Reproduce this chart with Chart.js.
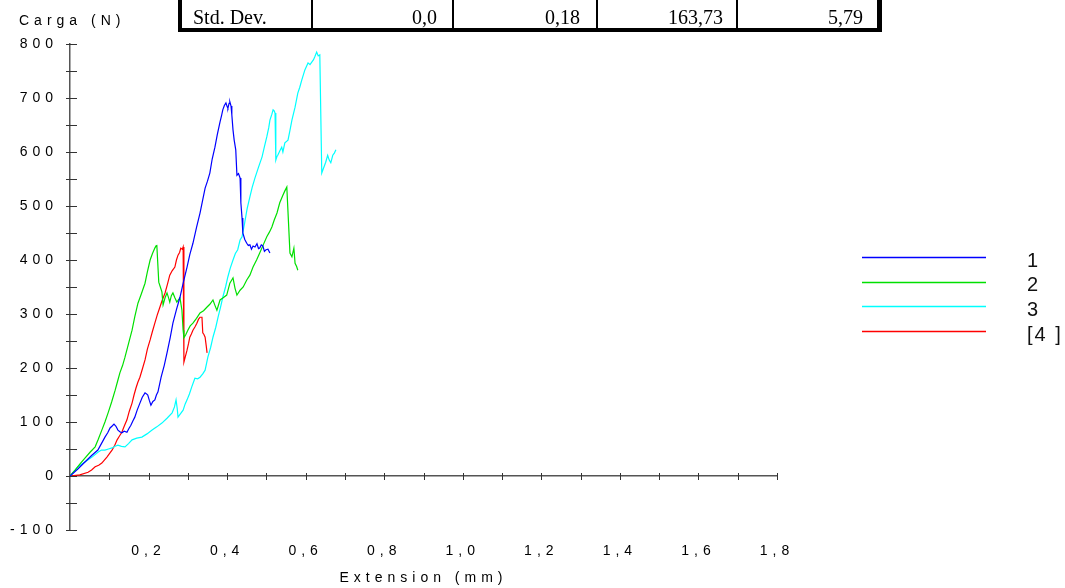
<!DOCTYPE html>
<html>
<head>
<meta charset="utf-8">
<script src="https://cdn.jsdelivr.net/npm/chart.js@4.4.1/dist/chart.umd.min.js"></script>
<style>
  html, body { margin: 0; padding: 0; background: #fff; }
  #wrap { position: relative; width: 1065px; height: 588px; overflow: hidden; }
  canvas { position: absolute; left: 0; top: 0; }
  .tb { position: absolute; background: #000; }
  .tt { position: absolute; top: 7px; font: 20px "Liberation Serif", "Times New Roman", serif; line-height: 20px; color: #000; white-space: nowrap; }
</style>
</head>
<body>
<div id="wrap">
  <canvas id="chart" width="1065" height="588"></canvas>
  <div id="statsTable"></div>
</div>
<script>
// stats row shown above the chart
const statLabel = 'Std. Dev.';
const statValues = ['0,0', '0,18', '163,73', '5,79'];

// series names and colours
const seriesNames = ['1', '2', '3', '[4 ]'];
const seriesColors = ['#0000ff', '#00e000', '#00ffff', '#ff0000'];

// Extension (mm) / Carga (N)
const ext1 = [0, 0.02, 0.038, 0.055, 0.071, 0.08, 0.089, 0.096, 0.102, 0.108, 0.112, 0.117, 0.122, 0.127, 0.132, 0.138, 0.145, 0.150, 0.155, 0.160, 0.165, 0.171, 0.178, 0.184, 0.191, 0.195, 0.198, 0.202, 0.206, 0.211, 0.216, 0.220, 0.224, 0.232, 0.240, 0.247, 0.255, 0.262, 0.271, 0.280, 0.289, 0.298, 0.305, 0.313, 0.322, 0.331, 0.338, 0.344, 0.350, 0.356, 0.362, 0.369, 0.375, 0.382, 0.386, 0.389, 0.393, 0.397, 0.400, 0.402, 0.405, 0.407, 0.410, 0.412, 0.415, 0.418, 0.422, 0.425, 0.429, 0.433, 0.435, 0.438, 0.440, 0.445, 0.450, 0.454, 0.458, 0.462, 0.466, 0.471, 0.476, 0.480, 0.483, 0.487, 0.491, 0.495, 0.499, 0.504, 0.509];
const load1 = [0, 13, 26, 38, 48, 60, 72, 80, 89, 93, 96, 92, 85, 82, 80, 83, 81, 88, 94, 102, 109, 122, 135, 146, 154, 152, 150, 140, 131, 138, 141, 150, 156, 183, 205, 228, 256, 283, 308, 331, 360, 387, 410, 431, 460, 487, 512, 533, 546, 561, 587, 609, 632, 656, 668, 678, 686, 691, 684, 681, 690, 693, 685, 669, 641, 622, 604, 557, 560, 552, 506, 478, 450, 438, 431, 427, 428, 420, 426, 424, 430, 421, 422, 428, 426, 416, 419, 420, 413];

const ext2 = [0, 0.013, 0.025, 0.038, 0.051, 0.064, 0.072, 0.081, 0.089, 0.097, 0.106, 0.115, 0.121, 0.127, 0.134, 0.140, 0.149, 0.158, 0.165, 0.173, 0.182, 0.191, 0.197, 0.204, 0.210, 0.216, 0.219, 0.221, 0.226, 0.230, 0.234, 0.237, 0.242, 0.247, 0.251, 0.254, 0.258, 0.262, 0.267, 0.272, 0.276, 0.280, 0.285, 0.288, 0.290, 0.295, 0.300, 0.306, 0.313, 0.322, 0.331, 0.340, 0.349, 0.356, 0.364, 0.369, 0.374, 0.382, 0.390, 0.399, 0.407, 0.415, 0.420, 0.425, 0.433, 0.441, 0.450, 0.458, 0.466, 0.475, 0.483, 0.492, 0.501, 0.508, 0.514, 0.520, 0.527, 0.534, 0.542, 0.547, 0.552, 0.560, 0.565, 0.570, 0.573, 0.577, 0.580];
const load2 = [0, 11, 22, 33, 44, 54, 68, 85, 100, 117, 137, 159, 175, 191, 205, 220, 245, 270, 295, 320, 338, 357, 378, 400, 412, 422, 426, 428, 359, 350, 341, 317, 330, 339, 330, 322, 334, 339, 330, 322, 326, 330, 307, 270, 256, 262, 270, 278, 283, 292, 302, 306, 313, 318, 326, 316, 307, 326, 330, 335, 357, 367, 348, 335, 344, 350, 363, 372, 387, 400, 413, 428, 443, 452, 461, 474, 487, 506, 520, 528, 535, 413, 406, 422, 394, 388, 381];

const ext3 = [0, 0.020, 0.038, 0.056, 0.071, 0.080, 0.089, 0.098, 0.107, 0.115, 0.122, 0.131, 0.140, 0.149, 0.158, 0.170, 0.183, 0.196, 0.209, 0.221, 0.234, 0.247, 0.260, 0.266, 0.270, 0.273, 0.275, 0.281, 0.288, 0.293, 0.298, 0.304, 0.310, 0.318, 0.325, 0.331, 0.338, 0.344, 0.351, 0.358, 0.364, 0.371, 0.377, 0.383, 0.389, 0.396, 0.402, 0.408, 0.415, 0.421, 0.427, 0.433, 0.438, 0.445, 0.451, 0.458, 0.464, 0.471, 0.480, 0.489, 0.495, 0.501, 0.506, 0.509, 0.514, 0.517, 0.520, 0.522, 0.524, 0.527, 0.529, 0.534, 0.539, 0.542, 0.547, 0.555, 0.560, 0.565, 0.573, 0.580, 0.585, 0.590, 0.598, 0.606, 0.611, 0.616, 0.620, 0.623, 0.628, 0.632, 0.636, 0.641, 0.644, 0.648, 0.651, 0.656, 0.660, 0.664, 0.669, 0.673, 0.677];
const load3 = [0, 17, 26, 35, 44, 48, 48, 50, 52, 55, 57, 55, 54, 60, 67, 70, 72, 78, 85, 91, 98, 107, 117, 128, 141, 125, 109, 115, 122, 133, 141, 152, 165, 181, 180, 183, 189, 196, 220, 238, 257, 275, 294, 312, 331, 350, 369, 385, 400, 412, 419, 437, 443, 470, 495, 517, 535, 552, 572, 591, 610, 628, 645, 659, 670, 678, 676, 672, 585, 592, 594, 602, 609, 600, 617, 622, 640, 659, 683, 709, 720, 733, 752, 765, 762, 767, 771, 776, 785, 778, 780, 561, 567, 575, 581, 594, 585, 580, 594, 598, 604];

const ext4 = [0, 0.025, 0.046, 0.055, 0.064, 0.073, 0.081, 0.088, 0.094, 0.100, 0.107, 0.114, 0.120, 0.126, 0.132, 0.138, 0.145, 0.151, 0.158, 0.163, 0.168, 0.173, 0.178, 0.185, 0.191, 0.197, 0.204, 0.210, 0.216, 0.222, 0.229, 0.235, 0.242, 0.248, 0.254, 0.260, 0.267, 0.271, 0.275, 0.279, 0.282, 0.286, 0.288, 0.290, 0.294, 0.298, 0.302, 0.305, 0.309, 0.313, 0.318, 0.323, 0.327, 0.331, 0.336, 0.338, 0.341, 0.344, 0.347, 0.349];
const load4 = [0, 2, 7, 11, 17, 20, 24, 30, 35, 41, 48, 57, 67, 74, 81, 92, 104, 120, 135, 150, 163, 174, 183, 200, 215, 235, 252, 268, 283, 298, 313, 326, 339, 355, 372, 380, 387, 400, 409, 414, 422, 420, 424, 211, 222, 233, 246, 257, 263, 270, 276, 283, 290, 294, 294, 265, 262, 257, 240, 228];

const xMin = 0, xMax = 1.8, yMin = -100, yMax = 800;

function zip(xs, ys) {
    return xs.map((x, i) => ({ x: x, y: ys[i] }));
}

const allExt = [ext1, ext2, ext3, ext4];
const allLoad = [load1, load2, load3, load4];

// build the little table with real text
(function buildTable() {
    const t = document.getElementById('statsTable');
    const bars = [
        [178, -10, 4, 42], [311, -10, 2, 40], [452, -10, 2, 40], [596, -10, 2, 40],
        [736, -10, 2, 40], [877, -10, 5, 42], [178, 28, 704, 4]
    ];
    bars.forEach(b => {
        const d = document.createElement('div');
        d.className = 'tb';
        d.style.left = b[0] + 'px'; d.style.top = b[1] + 'px';
        d.style.width = b[2] + 'px'; d.style.height = b[3] + 'px';
        t.appendChild(d);
    });
    const lab = document.createElement('div');
    lab.className = 'tt';
    lab.style.left = '193px';
    lab.textContent = statLabel;
    t.appendChild(lab);
    const rights = [437, 580, 723, 863];
    statValues.forEach((v, i) => {
        const d = document.createElement('div');
        d.className = 'tt';
        d.style.right = (1065 - rights[i]) + 'px';
        d.textContent = v;
        t.appendChild(d);
    });
})();

const SPACING = '5px';
const FONT = '"Liberation Sans", Arial, sans-serif';
const spacedText = {
    id: 'spacedText',
    beforeLayout(chart) { chart.ctx.letterSpacing = SPACING; },
    beforeDraw(chart) { chart.ctx.letterSpacing = SPACING; }
};

// axis tick marks that cross the axis lines, the y title and the legend
const decorations = {
    id: 'decorations',
    afterDraw(chart) {
        const ctx = chart.ctx;
        const area = chart.chartArea;
        const x = chart.scales.x;
        const y = chart.scales.y;
        ctx.save();
        ctx.strokeStyle = '#333';
        ctx.lineWidth = 1;
        y.ticks.forEach(t => {
            const py = Math.round(y.getPixelForValue(t.value)) + 0.5;
            ctx.beginPath();
            ctx.moveTo(area.left - 4, py);
            ctx.lineTo(area.left + 7, py);
            ctx.stroke();
        });
        const y0 = y.getPixelForValue(0);
        x.ticks.forEach(t => {
            if (t.value === 0) return;
            const px = Math.round(x.getPixelForValue(t.value)) + 0.5;
            ctx.beginPath();
            ctx.moveTo(px, y0 - 3);
            ctx.lineTo(px, y0 + 4);
            ctx.stroke();
        });

        ctx.letterSpacing = SPACING;
        ctx.fillStyle = '#000';
        ctx.font = '14px ' + FONT;
        ctx.textAlign = 'left';
        ctx.textBaseline = 'middle';
        ctx.fillText('Carga (N)', 19, 21);

        ctx.letterSpacing = '2px';
        ctx.font = '20px ' + FONT;
        ctx.lineWidth = 1.3;
        chart.data.datasets.forEach((ds, i) => {
            const ly = 257 + i * 24.7;
            ctx.strokeStyle = ds.borderColor;
            ctx.beginPath();
            ctx.moveTo(862, Math.round(ly) + 0.5);
            ctx.lineTo(986, Math.round(ly) + 0.5);
            ctx.stroke();
            ctx.fillStyle = '#111';
            ctx.fillText(ds.label, 1027, ly + 4);
        });
        ctx.restore();
    }
};

const ctx = document.getElementById('chart').getContext('2d');
const chart = new Chart(ctx, {
    type: 'scatter',
    data: {
        datasets: seriesNames.map((name, i) => ({
            label: name,
            data: zip(allExt[i], allLoad[i]),
            showLine: true,
            borderColor: seriesColors[i],
            backgroundColor: seriesColors[i],
            borderWidth: 1.2,
            pointRadius: 0,
            tension: 0
        }))
    },
    options: {
        responsive: false,
        animation: false,
        layout: { padding: { left: 0, right: 288, top: 44, bottom: 0 } },
        plugins: {
            legend: { display: false },
            tooltip: { enabled: false }
        },
        scales: {
            x: {
                type: 'linear',
                min: xMin,
                max: xMax,
                position: 'bottom',
                border: { display: false },
                grid: { display: false, drawTicks: false },
                ticks: {
                    stepSize: 0.1,
                    autoSkip: false,
                    maxRotation: 0,
                    padding: 13,
                    color: '#000',
                    font: { family: FONT, size: 14 },
                    callback: v => {
                        const k = Math.round(v * 10);
                        if (k === 0 || k % 2 !== 0) return '';
                        return (k / 10).toFixed(1).replace('.', ',');
                    }
                },
                title: {
                    display: true,
                    text: 'Extension (mm)',
                    color: '#000',
                    font: { family: FONT, size: 14 },
                    padding: { top: 0, bottom: 1 }
                },
                afterFit: s => { s.height = 58; }
            },
            y: {
                min: yMin,
                max: yMax,
                position: 'left',
                border: { display: true, color: '#555', width: 1.5 },
                grid: {
                    drawTicks: false,
                    color: c => (c.tick && c.tick.value === 0) ? '#555' : 'rgba(0,0,0,0)',
                    lineWidth: 1.5
                },
                ticks: {
                    stepSize: 50,
                    autoSkip: false,
                    padding: 12,
                    color: '#000',
                    font: { family: FONT, size: 14 },
                    callback: v => (v % 100 === 0) ? String(v) : ''
                },
                afterFit: s => { s.width = 70; }
            }
        }
    },
    plugins: [spacedText, decorations]
});
</script>
</body>
</html>
